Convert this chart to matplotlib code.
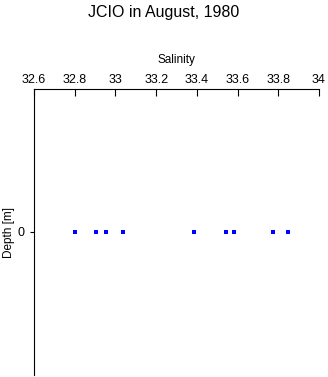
import matplotlib.pyplot as plt

# salinity readings at the surface
salinity = [32.803, 32.903, 32.955, 33.039, 33.387, 33.544, 33.584, 33.775, 33.849]
depth = [0, 0, 0, 0, 0, 0, 0, 0, 0]
xticks = [32.6, 32.8, 33.0, 33.2, 33.4, 33.6, 33.8, 34.0]
xticklabels = ['32.6', '32.8', '33', '33.2', '33.4', '33.6', '33.8', '34']

plt.rcParams['font.family'] = ['Liberation Sans', 'DejaVu Sans']

fig = plt.figure(figsize=(3.28, 3.77), dpi=100)
ax = fig.add_axes([34/328, 2/377, 285/328, 286/377])

ax.scatter(salinity, depth, marker='s', s=5, color='blue', linewidths=0)
ax.set_xlim(32.6, 34)
ax.set_ylim(1, -1)

ax.xaxis.tick_top()
ax.xaxis.set_label_position('top')
ax.set_xticks(xticks)
ax.set_xticklabels(xticklabels, fontsize=9)
ax.tick_params(axis='x', direction='in', length=5, pad=2, width=0.8)
ax.set_xlabel('Salinity', fontsize=8.5, labelpad=8)

ax.set_yticks([0])
ax.set_yticklabels(['0'], fontsize=9)
ax.tick_params(axis='y', direction='out', length=3, width=0.8)
ax.set_ylabel('Depth [m]', fontsize=8.5, labelpad=2)

ax.spines['bottom'].set_visible(False)
ax.spines['right'].set_visible(False)

fig.text(0.5, 1 - 12/377, 'JCIO in August, 1980', ha='center', va='center', fontsize=11.5)

fig.savefig('out.png', dpi=100)
